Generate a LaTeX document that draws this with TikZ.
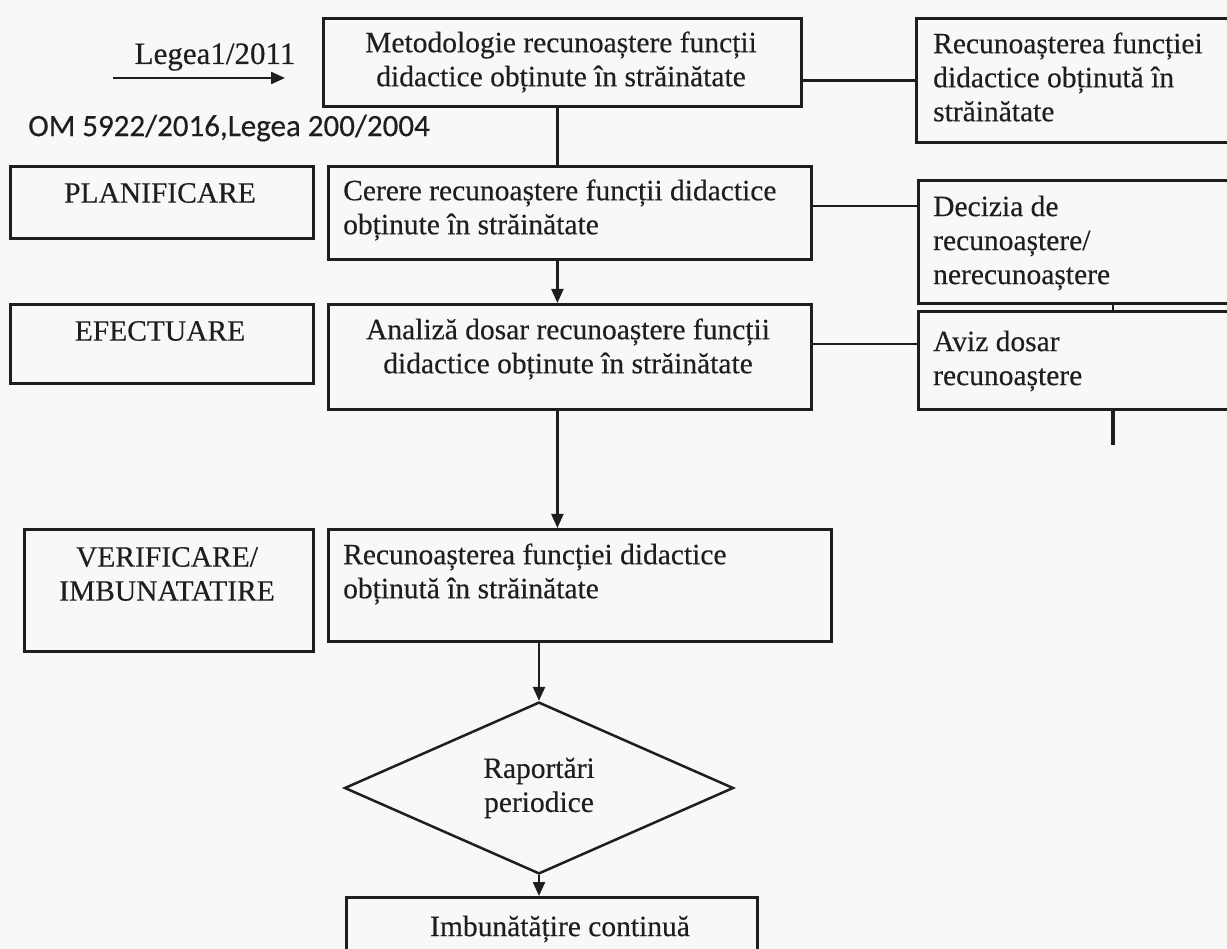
\documentclass[tikz,border=0pt]{standalone}
\usepackage{fontspec}
\setmainfont{Liberation Serif}[FakeBold=0.35]
\newfontfamily\calib{Carlito}[FakeBold=0.35]
\newfontfamily\camb{Liberation Serif}[FakeBold=0.35]
\usetikzlibrary{arrows.meta,shapes.geometric}
\definecolor{ink}{RGB}{30,30,30}
\definecolor{paper}{RGB}{247,249,249}
\begin{document}
\begin{tikzpicture}[x=1pt,y=-1pt,
  box/.style={draw=ink, line width=2.8pt, rectangle, inner sep=0pt, anchor=north west},
  txt/.style={text=ink, font=\fontsize{29.5}{34}\selectfont, inner sep=0pt},
  conn/.style={draw=ink, line width=2.3pt},
  arr/.style={conn, -{Triangle[length=14pt,width=12pt]}}]
\useasboundingbox (0,0) rectangle (1227,949);
\fill[paper] (0,0) rectangle (1227,949);
\clip (0,0) rectangle (1227,949);

% boxes
\node[box, minimum width=478pt, minimum height=88pt]  (M)  at (322,17)  {};
\node[box, minimum width=325pt, minimum height=124pt] (R1) at (915,17)  {};
\node[box, minimum width=303pt, minimum height=72pt]  (P)  at (9,165)   {};
\node[box, minimum width=483pt, minimum height=93pt]  (C)  at (327,165) {};
\node[box, minimum width=323pt, minimum height=123pt] (D)  at (917,179) {};
\node[box, minimum width=303pt, minimum height=79pt]  (E)  at (9,303)   {};
\node[box, minimum width=483pt, minimum height=105pt] (A)  at (327,303) {};
\node[box, minimum width=323pt, minimum height=98pt]  (Av) at (917,310) {};
\node[box, minimum width=289pt, minimum height=122pt] (V)  at (23,528)  {};
\node[box, minimum width=503pt, minimum height=112pt] (R2) at (327,528) {};
\node[box, minimum width=411pt, minimum height=70pt]  (I)  at (345,896) {};
\node[diamond, draw=ink, line width=2.5pt, inner sep=0pt, minimum width=389pt, minimum height=147pt,
      txt, align=center] (Q) at (539,788) {Raportări\\periodice};

% texts
\node[txt, align=center] (Mt) at (561,62) {Metodologie recunoaștere funcții\\didactice obținute în străinătate};
\node[txt, align=left, anchor=west] (R1t) at (933,77) {Recunoașterea funcției\\didactice obținută în\\străinătate};
\node[txt] (Pt) at (160,193) {PLANIFICARE};
\node[txt, align=left, anchor=west] (Ct) at (343,210) {Cerere recunoaștere funcții didactice\\obținute în străinătate};
\node[txt, align=left, anchor=west] (Dt) at (933,243) {Decizia de\\recunoaștere/\\nerecunoaștere};
\node[txt] (Et) at (160,331) {EFECTUARE};
\node[txt, align=center] (At) at (568,349) {Analiză dosar recunoaștere funcții\\didactice obținute în străinătate};
\node[txt, align=left, anchor=west] (Avt) at (933,361) {Aviz dosar\\recunoaștere};
\node[txt, align=center] (Vt) at (167,574) {VERIFICARE/\\IMBUNATATIRE};
\node[txt, align=left, anchor=west] (R2t) at (343,574) {Recunoașterea funcției didactice\\obținută în străinătate};
\node[txt] (It) at (560,929) {Imbunătățire continuă};

\node[text=ink, font=\camb\fontsize{31}{34}\selectfont, inner sep=0pt] (leg) at (215,57) {Legea1/2011};
\node[text=ink, font=\calib\fontsize{31}{34}\selectfont, inner sep=0pt] (om) at (229,128) {OM 5922/2016,Legea 200/2004};

% connectors
\coordinate (la) at (113,78);
\coordinate (lb) at (285,78);
\draw[arr] (la) -- (lb);
\draw[conn] ([yshift=-18pt]M.east) -- ([yshift=-18pt]M.east -| R1.west);
\draw[conn] ([xshift=-5pt]M.south) -- ([xshift=-5pt]M.south |- C.north);
\draw[conn] ([yshift=7pt]C.east) -- ([yshift=7pt]C.east -| D.west);
\draw[arr] ([xshift=-12.5pt]C.south) -- ([xshift=-12.5pt]C.south |- A.north);
\draw[conn] ([yshift=13pt]A.east) -- ([yshift=13pt]A.east -| Av.west);
\draw[conn] ([xshift=196pt]D.south west) -- ([xshift=196pt]Av.north west);
\coordinate (avEnd) at (1113,445);
\draw[ink, line width=3.2pt] ([xshift=196pt]Av.south west) -- (avEnd);
\draw[arr] ([xshift=-12.5pt]A.south) -- ([xshift=-12.5pt]A.south |- R2.north);
\draw[arr] (Q.north |- R2.south) -- (Q.north);
\draw[arr] (Q.south) -- (Q.south |- I.north);
\end{tikzpicture}
\end{document}
